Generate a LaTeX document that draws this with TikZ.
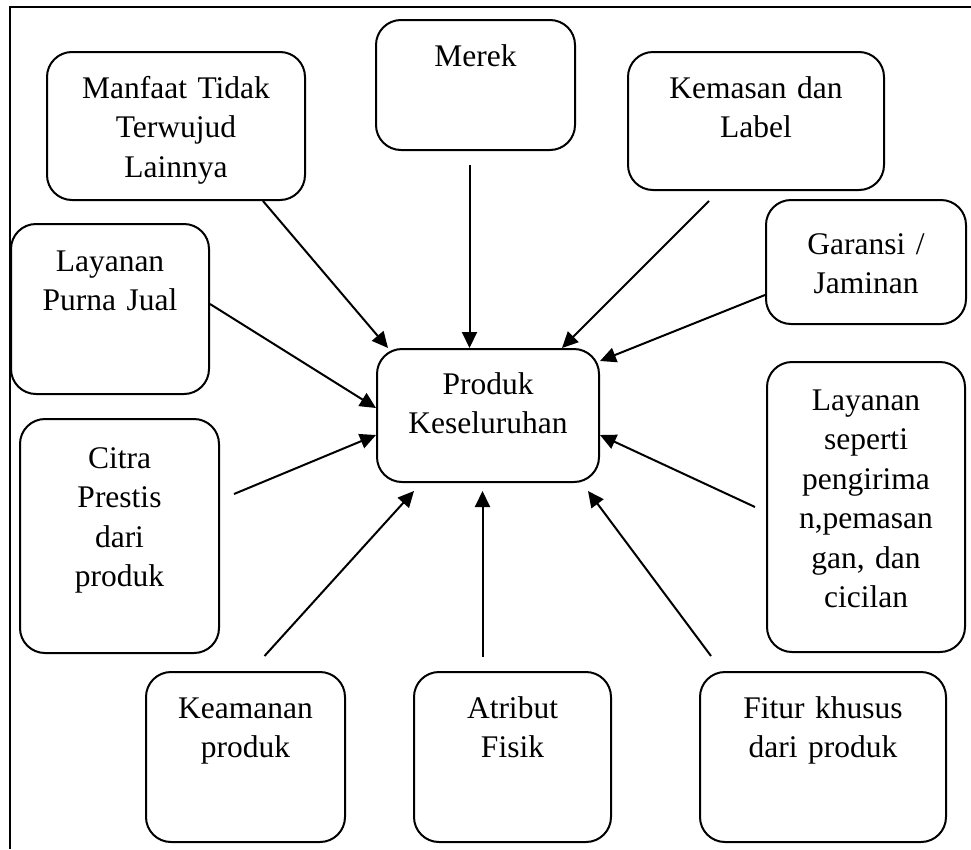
\documentclass[tikz,border=0pt]{standalone}
\usepackage{fontspec}
\setmainfont{Liberation Serif}
\usetikzlibrary{arrows.meta}

\tikzset{
	kotak/.style={draw, line width=2pt, rounded corners=25pt, inner sep=0pt, align=center, anchor=north west, font=\fontsize{31.5}{39.5}\selectfont},
	panah/.style={line width=2pt, -{Triangle[length=16pt,width=15pt]}}
}

\begin{document}
\begin{tikzpicture}[x=1pt,y=-1pt]
	\useasboundingbox (0,0) rectangle (971,849);
	\draw[line width=2.2pt] (971,7) -- (10,7) -- (10,849);

	\node[kotak, text width=222pt, text height=45pt, text depth=88pt] (produk) at (376,348) {Produk\\Keseluruhan};

	\node[kotak, text width=199pt, text height=46pt, text depth=84pt] (merek) at (375,19) {Merek};
	\node[kotak, text width=258pt, text height=46pt, text depth=102pt] (manfaat) at (46,51) {Manfaat Tidak\\Terwujud\\Lainnya};
	\node[kotak, text width=256pt, text height=46pt, text depth=92pt] (kemasan) at (627,51) {Kemasan dan\\Label};
	\node[kotak, text width=200pt, text height=54pt, text depth=70pt] (garansi) at (765,199) {Garansi /\\Jaminan};
	\node[kotak, text width=198pt, text height=47pt, text depth=123pt] (purnajual) at (10,223) {Layanan\\Purna Jual};
	\node[kotak, text width=199pt, text height=49pt, text depth=185pt] (citra) at (19,418) {Citra\\Prestis\\dari\\produk};
	\node[kotak, text width=198pt, text height=48pt, text depth=242pt] (layanan) at (766,361) {Layanan\\seperti\\pengirima\\n,pemasan\\gan, dan\\cicilan};
	\node[kotak, text width=199pt, text height=46pt, text depth=124pt] (keamanan) at (145,671) {Keamanan\\produk};
	\node[kotak, text width=197pt, text height=46pt, text depth=124pt] (atribut) at (413,671) {Atribut\\Fisik};
	\node[kotak, text width=246pt, text height=46pt, text depth=124pt] (fitur) at (699,671) {Fitur khusus\\dari produk};

	% ujung bebas panah
	\coordinate (dariManfaat) at ([xshift=87pt]manfaat.south);
	\coordinate (dariMerek) at ([xshift=-6pt,yshift=-14pt]merek.south);
	\coordinate (dariKemasan) at ([xshift=-47pt,yshift=-10pt]kemasan.south);
	\coordinate (dariGaransi) at ([yshift=-33pt]garansi.west);
	\coordinate (dariPurnaJual) at ([yshift=5pt]purnajual.east);
	\coordinate (dariCitra) at ([xshift=14pt,yshift=160pt]citra.south east);
	\coordinate (dariLayanan) at ([xshift=-11pt]layanan.west);
	\coordinate (dariKeamanan) at ([xshift=19pt,yshift=15pt]keamanan.north);
	\coordinate (dariAtribut) at ([xshift=-30pt,yshift=14pt]atribut.north);
	\coordinate (dariFitur) at ([xshift=-112pt,yshift=15pt]fitur.north);

	\draw[panah] (dariManfaat) -- ([xshift=12pt]produk.north west);
	\draw[panah] (dariMerek) -- (dariMerek |- produk.north);
	\draw[panah] (dariKemasan) -- ([xshift=-38pt]produk.north east);
	\draw[panah] (dariGaransi) -- ([yshift=-13pt]produk.north east);
	\draw[panah] (dariPurnaJual) -- ([yshift=-60pt]produk.north west);
	\draw[panah] (dariCitra) -- ([yshift=-87pt]produk.north west);
	\draw[panah] (dariLayanan) -- ([yshift=-87pt]produk.north east);
	\draw[panah] (dariKeamanan) -- ([xshift=38pt,yshift=-8pt]produk.south west);
	\draw[panah] (dariAtribut) -- ([yshift=-8pt]produk.south -| dariAtribut);
	\draw[panah] (dariFitur) -- ([xshift=-12pt,yshift=-8pt]produk.south east);
\end{tikzpicture}
\end{document}
